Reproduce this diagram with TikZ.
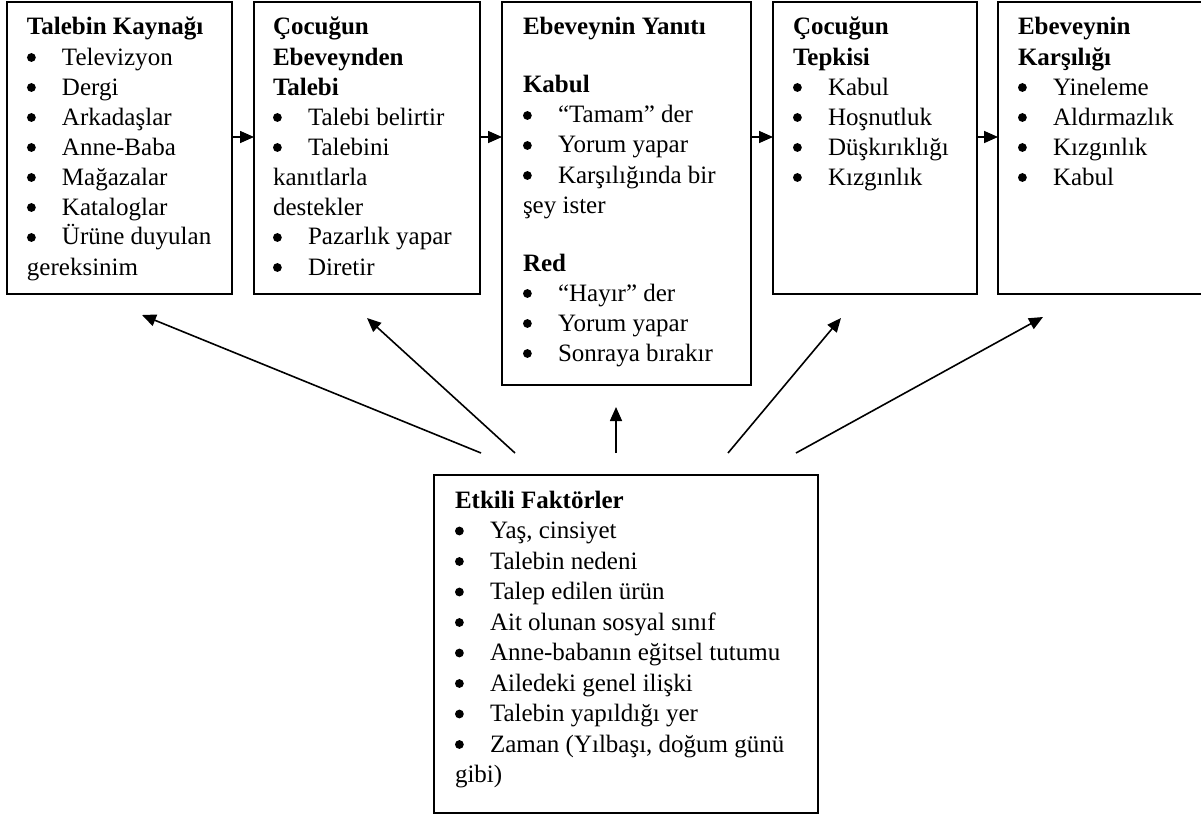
\documentclass[tikz,border=0pt]{standalone}
\usepackage{fontspec}
\setmainfont{Liberation Serif}
\usetikzlibrary{arrows.meta}
\newcommand{\bdot}{\tikz[baseline={(0pt,-7.5pt)}]\fill[black] (4.5pt,0pt) circle[radius=4.4pt];}
\newcommand{\bl}[1]{\makebox[35pt][l]{\bdot}#1}
\begin{document}
\begin{tikzpicture}[x=1pt,y=-1pt,
  box/.style={draw=black, line width=2pt, rectangle, inner sep=0pt, outer sep=0pt, anchor=north west},
  txt/.style={inner sep=0pt, outer sep=0pt, anchor=base west},
  arr/.style={line width=1.6pt, -{Triangle[length=14pt,width=12pt]}}]
\useasboundingbox (0,0) rectangle (1201,816);
\clip (0,0) rectangle (1201,816);
% boxes
\node[box, minimum width=225pt, minimum height=292pt] (b1) at (7,2) {};
\node[box, minimum width=226pt, minimum height=292pt] (b2) at (254,2) {};
\node[box, minimum width=249pt, minimum height=383pt] (b3) at (502,2) {};
\node[box, minimum width=204pt, minimum height=292pt] (b4) at (773,2) {};
\node[box, minimum width=210pt, minimum height=292pt] (b5) at (998,2) {};
\node[box, minimum width=384pt, minimum height=338pt] (f) at (434,475) {};
% texts
\node[txt] (t1) at (27,35) {\parbox[t]{220pt}{\fontsize{25}{30}\selectfont
\textbf{Talebin Kaynağı}\\
\bl{Televizyon}\\
\bl{Dergi}\\
\bl{Arkadaşlar}\\
\bl{Anne-Baba}\\
\bl{Mağazalar}\\
\bl{Kataloglar}\\
\bl{Ürüne duyulan}\\
gereksinim}};
\node[txt] (t2) at (273,35) {\parbox[t]{220pt}{\fontsize{25}{30}\selectfont
\textbf{Çocuğun}\\
\textbf{Ebeveynden}\\
\textbf{Talebi}\\
\bl{Talebi belirtir}\\
\bl{Talebini}\\
kanıtlarla\\
destekler\\
\bl{Pazarlık yapar}\\
\bl{Diretir}}};
\node[txt] (t3) at (523,35) {\parbox[t]{240pt}{\fontsize{25}{30}\selectfont
\textbf{Ebeveynin Yanıtı}\\[28pt]
\textbf{Kabul}\\
\bl{“Tamam” der}\\
\bl{Yorum yapar}\\
\bl{Karşılığında bir}\\
şey ister\\[28pt]
\textbf{Red}\\
\bl{“Hayır” der}\\
\bl{Yorum yapar}\\
\bl{Sonraya bırakır}}};
\node[txt] (t4) at (793,35) {\parbox[t]{200pt}{\fontsize{25}{30}\selectfont
\textbf{Çocuğun}\\
\textbf{Tepkisi}\\
\bl{Kabul}\\
\bl{Hoşnutluk}\\
\bl{Düşkırıklığı}\\
\bl{Kızgınlık}}};
\node[txt] (t5) at (1018,35) {\parbox[t]{200pt}{\fontsize{25}{30}\selectfont
\textbf{Ebeveynin}\\
\textbf{Karşılığı}\\
\bl{Yineleme}\\
\bl{Aldırmazlık}\\
\bl{Kızgınlık}\\
\bl{Kabul}}};
\node[txt] (tf) at (455,508) {\parbox[t]{360pt}{\fontsize{25}{30.5}\selectfont
\textbf{Etkili Faktörler}\\
\bl{Yaş, cinsiyet}\\
\bl{Talebin nedeni}\\
\bl{Talep edilen ürün}\\
\bl{Ait olunan sosyal sınıf}\\
\bl{Anne-babanın eğitsel tutumu}\\
\bl{Ailedeki genel ilişki}\\
\bl{Talebin yapıldığı yer}\\
\bl{Zaman (Yılbaşı, doğum günü}\\
gibi)}};
% horizontal connectors
\coordinate (arow) at (0,137);
\draw[arr] (b1.east |- arow) -- (b2.west |- arow);
\draw[arr] (b2.east |- arow) -- (b3.west |- arow);
\draw[arr] (b3.east |- arow) -- (b4.west |- arow);
\draw[arr] (b4.east |- arow) -- (b5.west |- arow);
% influence arrows
\coordinate (s1) at (481,453); \coordinate (e1) at (142,315);
\coordinate (s2) at (515,453); \coordinate (e2) at (367,318);
\coordinate (s3) at (616,453); \coordinate (e3) at (616,407);
\coordinate (s4) at (728,453); \coordinate (e4) at (841,318);
\coordinate (s5) at (796,453); \coordinate (e5) at (1043,317);
\draw[arr] (s1) -- (e1);
\draw[arr] (s2) -- (e2);
\draw[arr] (s3) -- (e3);
\draw[arr] (s4) -- (e4);
\draw[arr] (s5) -- (e5);
\end{tikzpicture}
\end{document}
